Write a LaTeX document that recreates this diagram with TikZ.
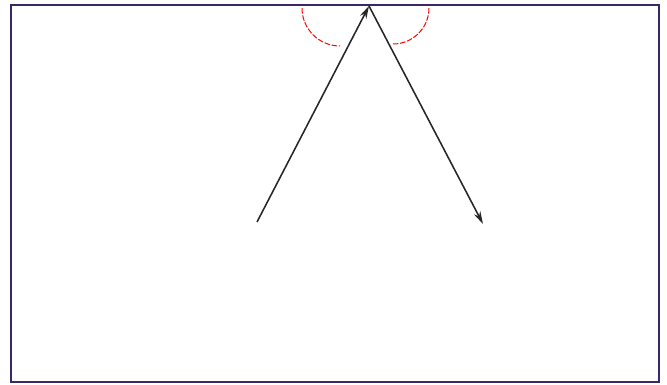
\documentclass[tikz,border=0pt]{standalone}
\usetikzlibrary{arrows.meta}
\tikzset{
    cadre/.style={draw={rgb,255:red,58;green,40;blue,100}, line width=1.4pt},
    fleche/.style={-{Stealth[length=9pt, width=5pt]}, line width=1.1pt, black!85},
    angle/.style={red, line width=0.7pt, dash pattern=on 4pt off 1.2pt}
}
\begin{document}
\begin{tikzpicture}[x=0.025cm, y=-0.025cm]
    \useasboundingbox (0,0) rectangle (667,385);

    % Cadre
    \draw[cadre] (11,5) rectangle (659,382);

    % Points du trajet
    \coordinate (depart) at (257,222);
    \coordinate (sommet) at (369,6);
    \coordinate (arrivee) at (483,224);

    % Angles
    \draw[angle] (302,8) arc[start angle=180, end angle=90, radius=38];
    \draw[angle] (429,8) arc[start angle=0, end angle=90, radius=36];

    % Flèches
    \draw[fleche] (depart) -- (sommet);
    \draw[fleche] (sommet) -- (arrivee);
\end{tikzpicture}
\end{document}
